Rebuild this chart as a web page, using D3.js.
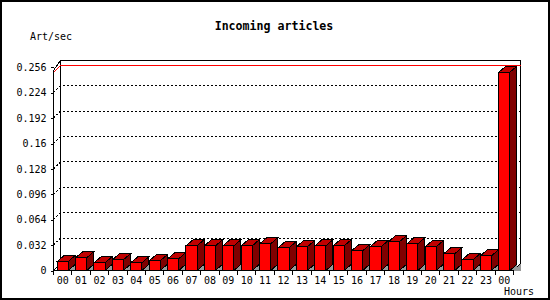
<!DOCTYPE html>
<meta charset="utf-8">
<html lang="en">
<head>
  <title>Incoming articles</title>
  <script src="https://d3js.org/d3.v7.min.js"></script>
  <style>
    body { margin: 0; background: #fff; }
    svg text { font-family: "DejaVu Sans Mono", monospace; font-size: 10px; fill: #000; }
  </style>
</head>
<body>
<div id="chart"></div>
<script>
// hours of the day (the last bar is the next midnight)
var hours = ["00","01","02","03","04","05","06","07","08","09","10","11",
             "12","13","14","15","16","17","18","19","20","21","22","23","00"];
// articles per second
var artPerSec = [0.0113, 0.0160, 0.0097, 0.0135, 0.0097, 0.0122, 0.0147, 0.0311,
                 0.0311, 0.0311, 0.0311, 0.0336, 0.0286, 0.0299, 0.0311, 0.0311,
                 0.0248, 0.0299, 0.0362, 0.0336, 0.0299, 0.0210, 0.0135, 0.0185,
                 0.2498];
var yTicks = [0, 0.032, 0.064, 0.096, 0.128, 0.16, 0.192, 0.224, 0.256];
var maxLine = 0.2498;

var width = 550, height = 300;
var depth = 7;       // 3d offset of the back wall
var barDx = 7, barDy = 6;

var svg = d3.select("#chart").append("svg")
    .attr("width", width)
    .attr("height", height);

// outer frame
svg.append("rect")
    .attr("x", 1).attr("y", 1)
    .attr("width", width - 2).attr("height", height - 2)
    .attr("fill", "#fff").attr("stroke", "#000").attr("stroke-width", 2);

var x = d3.scaleBand()
    .domain(d3.range(hours.length))
    .range([53.5, 513.5])
    .paddingInner(0.4)
    .paddingOuter(0.2);

var y = d3.scaleLinear()
    .domain([0, 0.256])
    .range([270.5, 67.3]);

var x0 = x.range()[0], x1 = x.range()[1], y0 = y(0);
var wallTop = y(0.256) - depth;

var g = svg.append("g").attr("shape-rendering", "crispEdges");

// back wall
g.append("path")
    .attr("d", "M" + (x0 + depth) + "," + (y0 - depth) + "V" + wallTop +
               "H" + (x1 + depth) + "V" + (y0 - depth))
    .attr("fill", "none").attr("stroke", "#000");
g.append("path")
    .attr("d", "M" + x0 + "," + y(0.252) + "L" + (x0 + depth) + "," + wallTop)
    .attr("fill", "none").attr("stroke", "#000");

// dotted grid lines
g.selectAll(".grid")
  .data(yTicks.filter(function(d){ return d > 0 && d < 0.256; }))
  .enter().append("path")
    .attr("class", "grid")
    .attr("d", function(d){
      return "M" + x0 + "," + y(d) + "L" + (x0 + depth) + "," + (y(d) - depth) +
             "H" + (x1 + depth);
    })
    .attr("fill", "none").attr("stroke", "#000")
    .attr("stroke-dasharray", "2,2");

// red max line
g.append("path")
    .attr("d", "M" + x0 + "," + y(maxLine) + "L" + (x0 + depth) + "," + (y(maxLine) - depth) +
               "H" + (x1 + depth))
    .attr("fill", "none").attr("stroke", "#ff0000");

// floor corners
g.append("path")
    .attr("d", "M" + x1 + "," + y0 + "L" + (x1 + depth) + "," + (y0 - depth) + "V" + y0 + "Z")
    .attr("fill", "#999").attr("stroke", "none");
g.append("path")
    .attr("d", "M" + x0 + "," + y0 + "L" + (x0 + depth) + "," + (y0 - depth) +
               "M" + x1 + "," + y0 + "L" + (x1 + depth) + "," + (y0 - depth))
    .attr("fill", "none").attr("stroke", "#000");

// bars
var bw = x.bandwidth();
var bars = g.selectAll(".bar")
  .data(artPerSec)
  .enter().append("g")
    .attr("class", "bar");

bars.append("path")
    .attr("d", function(d, i){
      var r = x(i) + bw;
      return "M" + r + "," + y0 + "L" + (r + barDx) + "," + (y0 - barDy) + "V" + y0 + "Z";
    })
    .attr("fill", "#999").attr("stroke", "none");

bars.append("path")
    .attr("d", function(d, i){
      var r = x(i) + bw, t = y(d);
      return "M" + r + "," + t + "L" + (r + barDx) + "," + (t - barDy) +
             "V" + (y0 - barDy) + "L" + r + "," + y0 + "Z";
    })
    .attr("fill", "#800000").attr("stroke", "#000");

bars.append("path")
    .attr("d", function(d, i){
      var l = x(i), t = y(d);
      return "M" + l + "," + t + "L" + (l + barDx) + "," + (t - barDy) +
             "H" + (l + bw + barDx) + "L" + (l + bw) + "," + t + "Z";
    })
    .attr("fill", "#c00000").attr("stroke", "#000");

bars.append("rect")
    .attr("x", function(d, i){ return x(i); })
    .attr("y", function(d){ return y(d); })
    .attr("width", bw)
    .attr("height", function(d){ return y0 - y(d); })
    .attr("fill", "#ff0000").attr("stroke", "#000");

// front axes
g.append("path")
    .attr("d", "M" + x0 + "," + y(0.252) + "V" + y0 + "H" + x1)
    .attr("fill", "none").attr("stroke", "#000");

var yAxis = svg.append("g")
    .attr("transform", "translate(" + x0 + ",0)")
    .call(d3.axisLeft(y).tickValues(yTicks).tickSize(3).tickPadding(4)
          .tickFormat(function(d){ return String(d); }));
yAxis.select(".domain").remove();
yAxis.selectAll("text").style("font-size", "10px").style("font-family", "DejaVu Sans Mono");
yAxis.selectAll("line").attr("shape-rendering", "crispEdges");

var xAxis = svg.append("g")
    .attr("transform", "translate(0," + y0 + ")")
    .call(d3.axisBottom(x).tickSize(0).tickPadding(6)
          .tickFormat(function(i){ return hours[i]; }));
xAxis.select(".domain").remove();
xAxis.selectAll("text").style("font-size", "10px").style("font-family", "DejaVu Sans Mono");

// tick marks between the hours
g.selectAll(".xtick")
  .data(d3.range(hours.length + 1))
  .enter().append("line")
    .attr("x1", function(i){ return x0 + i * x.step(); })
    .attr("x2", function(i){ return x0 + i * x.step(); })
    .attr("y1", y0).attr("y2", y0 + 4)
    .attr("stroke", "#000");

// titles
svg.append("text")
    .attr("x", 274).attr("y", 29.5)
    .attr("text-anchor", "middle")
    .style("font-size", "11.6px").style("font-weight", "bold")
    .text("Incoming articles");

svg.append("text")
    .attr("x", 30).attr("y", 40)
    .text("Art/sec");

svg.append("text")
    .attr("x", 504).attr("y", 295)
    .text("Hours");
</script>
</body>
</html>
